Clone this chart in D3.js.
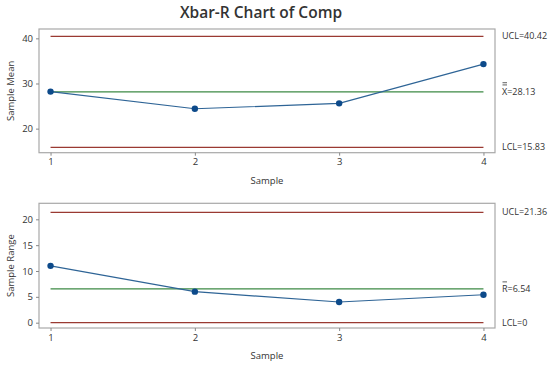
<!DOCTYPE html>
<html>
<head>
<meta charset="utf-8">
<script src="https://cdn.jsdelivr.net/npm/d3@7"></script>
<style>
  body { margin: 0; background: #fff; }
  svg text { font-family: "Open Sans", "Noto Sans", sans-serif; fill: #333; }
</style>
</head>
<body>
<div id="chart"></div>
<script>
"use strict";

// data
var samples = [1, 2, 3, 4];
var sampleMeans = [28.2, 24.4, 25.6, 34.3];
var sampleRanges = [11.0, 6.0, 4.0, 5.4];

var meanLimits = { ucl: 40.42, center: 28.13, lcl: 15.83 };
var rangeLimits = { ucl: 21.36, center: 6.54, lcl: 0 };

var meanTicks = [20, 30, 40];
var rangeTicks = [0, 5, 10, 15, 20];

var width = 550, height = 368;

var svg = d3.select("#chart")
    .append("svg")
    .attr("width", width)
    .attr("height", height);

// title
svg.append("text")
    .attr("x", 261)
    .attr("y", 18)
    .attr("text-anchor", "middle")
    .style("font-size", "15.5px")
    .style("font-weight", "600")
    .text("Xbar-R Chart of Comp");

var x = d3.scaleLinear()
    .domain([0.92, 4.08])
    .range([39, 495]);

function drawPanel(opts) {

    var y = d3.scaleLinear()
        .domain(opts.domain)
        .range([opts.bottom, opts.top]);

    var g = svg.append("g");

    // frame
    g.append("rect")
        .attr("x", 39)
        .attr("y", opts.top)
        .attr("width", 495 - 39)
        .attr("height", opts.bottom - opts.top)
        .attr("fill", "none")
        .attr("stroke", "#a8a8a8")
        .attr("stroke-width", 1.2);

    // axes
    var yAxis = g.append("g")
        .attr("transform", "translate(39,0)")
        .call(d3.axisLeft(y).tickValues(opts.ticks).tickSize(3).tickPadding(3));
    yAxis.select(".domain").remove();
    yAxis.selectAll("line").attr("stroke", "#888");
    yAxis.selectAll("text").style("font-size", "9.5px").attr("fill", "#333");

    var xAxis = g.append("g")
        .attr("transform", "translate(0," + opts.bottom + ")")
        .call(d3.axisBottom(x).tickValues(samples).tickFormat(d3.format("d")).tickSize(3).tickPadding(3));
    xAxis.select(".domain").remove();
    xAxis.selectAll("line").attr("stroke", "#888");
    xAxis.selectAll("text").style("font-size", "9.5px").attr("fill", "#333");

    // axis titles
    g.append("text")
        .attr("x", 267)
        .attr("y", opts.bottom + 31)
        .attr("text-anchor", "middle")
        .style("font-size", "9.5px")
        .text("Sample");

    g.append("text")
        .attr("transform", "rotate(-90)")
        .attr("x", -(opts.top + opts.bottom) / 2)
        .attr("y", 14)
        .attr("text-anchor", "middle")
        .style("font-size", "9.5px")
        .text(opts.yLabel);

    // limit and center lines
    [["ucl", "#9a3a32"], ["lcl", "#9a3a32"], ["center", "#3c8a44"]].forEach(function (l) {
        g.append("line")
            .attr("x1", x(1))
            .attr("x2", x(4))
            .attr("y1", y(opts.limits[l[0]]))
            .attr("y2", y(opts.limits[l[0]]))
            .attr("stroke", l[1])
            .attr("stroke-width", 1.3);
    });

    // data line
    var line = d3.line()
        .x(function (d, i) { return x(samples[i]); })
        .y(function (d) { return y(d); });

    g.append("path")
        .datum(opts.values)
        .attr("fill", "none")
        .attr("stroke", "#2e6496")
        .attr("stroke-width", 1.2)
        .attr("d", line);

    g.selectAll("circle")
        .data(opts.values)
        .join("circle")
        .attr("cx", function (d, i) { return x(samples[i]); })
        .attr("cy", function (d) { return y(d); })
        .attr("r", 3.2)
        .attr("fill", "#0d4a8a");

    // right labels
    var lx = 502;
    g.append("text")
        .attr("x", lx)
        .attr("y", y(opts.limits.ucl) + 3)
        .style("font-size", "9px")
        .text("UCL=" + opts.limits.ucl);

    g.append("text")
        .attr("x", lx)
        .attr("y", y(opts.limits.lcl) + 3)
        .style("font-size", "9px")
        .text("LCL=" + opts.limits.lcl);

    var cy = y(opts.limits.center) + 3.5;
    g.append("text")
        .attr("x", lx)
        .attr("y", cy)
        .style("font-size", "9px")
        .text(opts.centerSymbol + "=" + opts.limits.center);

    // bars over the center symbol
    for (var k = 0; k < opts.bars; k++) {
        g.append("line")
            .attr("x1", lx + 0.5)
            .attr("x2", lx + 5)
            .attr("y1", cy - 10.5 - k * 2.2)
            .attr("y2", cy - 10.5 - k * 2.2)
            .attr("stroke", "#333")
            .attr("stroke-width", 0.8);
    }
}

drawPanel({
    top: 29,
    bottom: 152.7,
    domain: [14.67, 42.07],
    ticks: meanTicks,
    values: sampleMeans,
    limits: meanLimits,
    yLabel: "Sample Mean",
    centerSymbol: "X",
    bars: 2
});

drawPanel({
    top: 203.3,
    bottom: 328,
    domain: [-1.03, 23.1],
    ticks: rangeTicks,
    values: sampleRanges,
    limits: rangeLimits,
    yLabel: "Sample Range",
    centerSymbol: "R",
    bars: 1
});
</script>
</body>
</html>
